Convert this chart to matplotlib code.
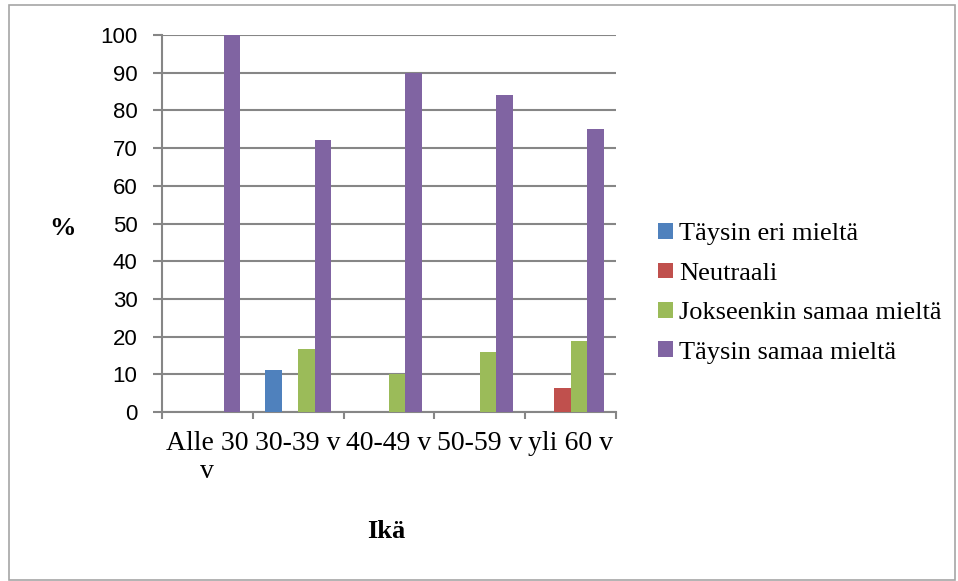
import numpy as np
import matplotlib
matplotlib.use("Agg")
import matplotlib.pyplot as plt
from matplotlib.patches import Rectangle

# =========================
# DATA
# =========================
categories = ["Alle 30\nv", "30-39 v", "40-49 v", "50-59 v", "yli 60 v"]
series_names = ["Täysin eri mieltä", "Neutraali", "Jokseenkin samaa mieltä", "Täysin samaa mieltä"]
taysin_eri = [0, 11.1, 0, 0, 0]
neutraali = [0, 0, 0, 0, 6.25]
jokseenkin = [0, 16.7, 10, 16, 18.75]
taysin_samaa = [100, 72.2, 90, 84, 75]
y_ticks = list(range(0, 101, 10))

colors = ["#4F81BD", "#C0504D", "#9BBB59", "#8064A2"]
grid_col = "#868686"

# =========================
# PLOT
# =========================
plt.rcParams["font.family"] = ["Liberation Serif", "DejaVu Serif"]

fig = plt.figure(figsize=(9.58, 5.81), dpi=100)
ax = fig.add_axes([0.169, 0.2908, 0.474, 0.6489])

values = [taysin_eri, neutraali, jokseenkin, taysin_samaa]
n = len(values)
bar_w = 1 / (n + 1.5)
x = np.arange(len(categories))

for i, (vals, name, col) in enumerate(zip(values, series_names, colors)):
    offs = (i - (n - 1) / 2) * bar_w
    ax.bar(x + offs, vals, width=bar_w, color=col, label=name, zorder=3)

ax.set_xlim(-0.5, len(categories) - 0.5)
ax.set_ylim(0, 100)
ax.set_yticks(y_ticks)
ax.set_yticklabels([str(t) for t in y_ticks], family=["Liberation Sans", "DejaVu Sans"], fontsize=16)
ax.yaxis.grid(True, color=grid_col, linewidth=1.5, zorder=0)

# category borders as major ticks, labels centred as minor ticks
ax.set_xticks(np.arange(len(categories) + 1) - 0.5)
ax.set_xticklabels([])
ax.set_xticks(x, minor=True)
ax.set_xticklabels(categories, minor=True, fontsize=20, linespacing=1.15)
ax.tick_params(axis="x", which="minor", length=0, pad=14)
ax.tick_params(axis="x", which="major", length=5, color=grid_col, width=1.5)
ax.tick_params(axis="y", length=6.5, color=grid_col, width=1.5, pad=11)

for side in ["top", "right"]:
    ax.spines[side].set_visible(False)
for side in ["left", "bottom"]:
    ax.spines[side].set_color(grid_col)
    ax.spines[side].set_linewidth(1.5)

fig.text(0.065, 0.607, "%", fontsize=19, fontweight="bold", ha="center", va="center")
fig.text(0.403, 0.086, "Ikä", fontsize=19, fontweight="bold", ha="center", va="center")

ax.legend(loc="center left", bbox_to_anchor=(0.687, 0.495), bbox_transform=fig.transFigure,
          frameon=False, fontsize=19, handlelength=0.55, handleheight=0.55,
          handletextpad=0.25, labelspacing=0.65, borderpad=0, borderaxespad=0)

fig.patches.append(Rectangle((0.0094, 0.002), 0.987, 0.989, transform=fig.transFigure,
                             fill=False, edgecolor="#A6A6A6", linewidth=1.2))

fig.savefig("out.png", dpi=100)
